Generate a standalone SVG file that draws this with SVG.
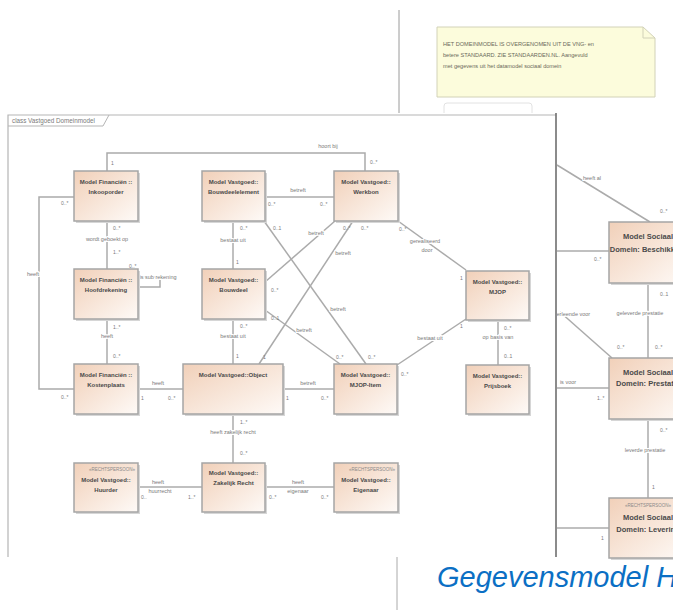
<svg xmlns="http://www.w3.org/2000/svg" width="673" height="610" viewBox="0 0 673 610">
<defs>
<linearGradient id="g" x1="0" y1="0" x2="1" y2="1"><stop offset="0" stop-color="#f1d0b9"/><stop offset="1" stop-color="#fefaf7"/></linearGradient>
</defs>
<style>
.bx{fill:url(#g);stroke:#a5a5a5;stroke-width:1.5}
.sh{fill:#d6d6d6}
.t{font-family:"Liberation Sans",Arial,sans-serif;font-size:6px;font-weight:bold;fill:#4a4a4a;text-anchor:middle}
.bt{font-family:"Liberation Sans",Arial,sans-serif;font-size:7.5px;font-weight:bold;fill:#4a4a4a;text-anchor:middle}
.st{font-family:"Liberation Sans",Arial,sans-serif;font-size:4.5px;fill:#8a8a8a;text-anchor:end}
.l{font-family:"Liberation Sans",Arial,sans-serif;font-size:5.5px;fill:#7a7a7a;text-anchor:middle;stroke:#fff;stroke-width:2;paint-order:stroke}
.m{font-family:"Liberation Sans",Arial,sans-serif;font-size:5px;fill:#7a7a7a}
.c{fill:none;stroke:#ababab;stroke-width:1.5}
.n{font-family:"Liberation Sans",Arial,sans-serif;font-size:5.6px;fill:#6a6a5a}
</style>
<rect x="0" y="0" width="673" height="610" fill="#fff"/>
<!-- background page -->
<g id="background">
<line x1="399" y1="10" x2="399" y2="113" stroke="#9a9a9a" stroke-width="1"/>
<line x1="397" y1="557" x2="397" y2="610" stroke="#aaa" stroke-width="1"/>
<rect x="444" y="103" width="88" height="14" rx="3" fill="none" stroke="#e2e2e2"/>
<g id="note">
<path d="M437,27 H643 L655,38 V97 H437 Z" fill="#fcfcdc" stroke="#d2d2b8" stroke-width="1"/>
<path d="M643,27 V38 H655" fill="none" stroke="#d2d2b8" stroke-width="1"/>
<text class="n" x="443" y="46">HET DOMEINMODEL IS OVERGENOMEN UIT DE VNG- en</text>
<text class="n" x="443" y="57">betere STANDAARD. ZIE STANDAARDEN.NL. Aangevuld</text>
<text class="n" x="443" y="68">met gegevens uit het datamodel sociaal domein</text>
</g>
<g id="bg-connectors">
<path class="c" d="M557,165 L650,222"/>
<path class="c" d="M557,251 H609"/>
<path class="c" d="M648,283 V358"/>
<path class="c" d="M560,312 L612,358"/>
<path class="c" d="M557,388 H609"/>
<path class="c" d="M648,419 V498"/>
<path class="c" d="M557,528 H609"/>
<text class="l" x="592" y="180">heeft al</text>
<text class="m" x="660" y="213">0..*</text>
<text class="m" x="594" y="261">0..*</text>
<text class="m" x="660" y="296">0..1</text>
<text class="l" x="640" y="315">geleverde prestatie</text>
<text class="l" x="572" y="316">verleende voor</text>
<text class="m" x="617" y="349">0..*</text>
<text class="m" x="655" y="349">0..*</text>
<text class="l" x="568" y="384">is voor</text>
<text class="m" x="597" y="400">1..*</text>
<text class="m" x="660" y="432">0..*</text>
<text class="l" x="645" y="452">leverde prestatie</text>
<text class="m" x="652" y="489">1</text>
<text class="m" x="601" y="540">1</text>
</g>
<g id="bg-beschikking"><rect class="sh" x="611" y="224" width="80" height="61"/><rect class="bx" x="609" y="222" width="80" height="61"/><text class="bt" x="648" y="239">Model Sociaal</text><text class="bt" x="648" y="252">Domein: Beschikking</text></g>
<g id="bg-prestatie"><rect class="sh" x="611" y="360" width="80" height="61"/><rect class="bx" x="609" y="358" width="80" height="61"/><text class="bt" x="648" y="375">Model Sociaal</text><text class="bt" x="648" y="386">Domein: Prestatie</text></g>
<g id="bg-levering"><rect class="sh" x="611" y="500" width="80" height="60"/><rect class="bx" x="609" y="498" width="80" height="60"/><text class="st" x="671" y="507">«RECHTSPERSOON»</text><text class="bt" x="648" y="520">Model Sociaal</text><text class="bt" x="648" y="532">Domein: Levering</text></g>
</g>
<!-- front diagram -->
<rect x="0" y="113" width="557" height="444" fill="#fff"/>
<g id="frame">
<path d="M8,557 V115 H556" fill="none" stroke="#b5b5b5" stroke-width="1.2"/>
<line x1="556" y1="113" x2="556" y2="557" stroke="#6e6e6e" stroke-width="1.6"/>
<path d="M8,126 H103 L109,115" fill="none" stroke="#b5b5b5" stroke-width="1"/>
<text class="m" x="12" y="123" style="font-size:6.3px">class Vastgoed Domeinmodel</text>
</g>
<g id="connectors">
<path class="c" d="M107,171 V153 H365 V171"/>
<path class="c" d="M107,221 V269"/>
<path class="c" d="M74,197 H39 V389 H74"/>
<path class="c" d="M138,277 H160 V287 H138"/>
<path class="c" d="M107,319 V364"/>
<path class="c" d="M138,389 H183"/>
<path class="c" d="M265,197 H334"/>
<path class="c" d="M233,221 V269"/>
<path class="c" d="M233,319 V364"/>
<path class="c" d="M233,414 V463"/>
<path class="c" d="M138,487 H202"/>
<path class="c" d="M265,487 H334"/>
<path class="c" d="M283,389 H334"/>
<path class="c" d="M398,221 L466,270"/>
<path class="c" d="M397,365 L466,319"/>
<path class="c" d="M498,320 V365"/>
<path class="c" d="M264,221 L366,364"/>
<path class="c" d="M335,221 L265,282"/>
<path class="c" d="M353,221 L259,364"/>
<path class="c" d="M265,310 L340,364"/>
<text class="l" x="328" y="148">hoort bij</text>
<text class="l" x="107" y="241">wordt geboekt op</text>
<text class="l" x="33" y="276">heeft</text>
<text class="l" x="158" y="279">is sub rekening</text>
<text class="l" x="107" y="338">heeft</text>
<text class="l" x="158" y="385">heeft</text>
<text class="l" x="298" y="192">betreft</text>
<text class="l" x="233" y="242">bestaat uit</text>
<text class="l" x="233" y="338">bestaat uit</text>
<text class="l" x="233" y="434">heeft zakelijk recht</text>
<text class="l" x="158" y="484">heeft</text>
<text class="l" x="160" y="493">huurrecht</text>
<text class="l" x="298" y="484">heeft</text>
<text class="l" x="298" y="493">eigenaar</text>
<text class="l" x="308" y="385">betreft</text>
<text class="l" x="425" y="243">gerealiseerd</text>
<text class="l" x="427" y="252">door</text>
<text class="l" x="430" y="340">bestaat uit</text>
<text class="l" x="498" y="339">op basis van</text>
<text class="l" x="338" y="311">betreft</text>
<text class="l" x="316" y="235">betreft</text>
<text class="l" x="343" y="255">betreft</text>
<text class="l" x="304" y="332">betreft</text>
<text class="m" x="111" y="165">1</text>
<text class="m" x="370" y="164">0..*</text>
<text class="m" x="113" y="230">0..*</text>
<text class="m" x="113" y="254">1..*</text>
<text class="m" x="61" y="205">0..*</text>
<text class="m" x="61" y="399">0..*</text>
<text class="m" x="129" y="268">0..*</text>
<text class="m" x="113" y="329">1..*</text>
<text class="m" x="113" y="358">0..*</text>
<text class="m" x="141" y="400">1</text>
<text class="m" x="168" y="400">0..*</text>
<text class="m" x="268" y="206">0..*</text>
<text class="m" x="320" y="206">0..*</text>
<text class="m" x="240" y="230">0..*</text>
<text class="m" x="236" y="264">1</text>
<text class="m" x="240" y="328">0..*</text>
<text class="m" x="236" y="358">1</text>
<text class="m" x="240" y="424">1..*</text>
<text class="m" x="240" y="455">0..*</text>
<text class="m" x="141" y="499">0..</text>
<text class="m" x="188" y="499">1..*</text>
<text class="m" x="269" y="499">0..*</text>
<text class="m" x="321" y="499">0..*</text>
<text class="m" x="286" y="400">1</text>
<text class="m" x="321" y="400">0..*</text>
<text class="m" x="399" y="231">0..*</text>
<text class="m" x="460" y="280">1</text>
<text class="m" x="401" y="376">0..*</text>
<text class="m" x="460" y="328">1</text>
<text class="m" x="504" y="330">0..*</text>
<text class="m" x="504" y="358">0..1</text>
<text class="m" x="273" y="230">0..1</text>
<text class="m" x="368" y="359">0..*</text>
<text class="m" x="343" y="230">0..*</text>
<text class="m" x="271" y="292">0..*</text>
<text class="m" x="361" y="230">0..*</text>
<text class="m" x="263" y="359">1</text>
<text class="m" x="271" y="320">0..1</text>
<text class="m" x="336" y="359">0..*</text>
</g>
<g id="inkooporder"><rect class="sh" x="76" y="173" width="64" height="50"/><rect class="bx" x="74" y="171" width="64" height="50"/><text class="t" x="106" y="184">Model Financiën ::</text><text class="t" x="106" y="194">Inkooporder</text></g>
<g id="bouwdeelelement"><rect class="sh" x="204" y="173" width="63" height="50"/><rect class="bx" x="202" y="171" width="63" height="50"/><text class="t" x="233.5" y="184">Model Vastgoed::</text><text class="t" x="233.5" y="194">Bouwdeelelement</text></g>
<g id="werkbon"><rect class="sh" x="336" y="173" width="64" height="50"/><rect class="bx" x="334" y="171" width="64" height="50"/><text class="t" x="366" y="184">Model Vastgoed::</text><text class="t" x="366" y="194">Werkbon</text></g>
<g id="hoofdrekening"><rect class="sh" x="76" y="271" width="64" height="50"/><rect class="bx" x="74" y="269" width="64" height="50"/><text class="t" x="106" y="282">Model Financiën ::</text><text class="t" x="106" y="292">Hoofdrekening</text></g>
<g id="bouwdeel"><rect class="sh" x="204" y="271" width="63" height="50"/><rect class="bx" x="202" y="269" width="63" height="50"/><text class="t" x="233.5" y="282">Model Vastgoed::</text><text class="t" x="233.5" y="292">Bouwdeel</text></g>
<g id="mjop"><rect class="sh" x="468" y="273" width="63" height="49"/><rect class="bx" x="466" y="271" width="63" height="49"/><text class="t" x="497.5" y="284">Model Vastgoed::</text><text class="t" x="497.5" y="294">MJOP</text></g>
<g id="kostenplaats"><rect class="sh" x="76" y="366" width="64" height="50"/><rect class="bx" x="74" y="364" width="64" height="50"/><text class="t" x="106" y="377">Model Financiën ::</text><text class="t" x="106" y="387">Kostenplaats</text></g>
<g id="object"><rect class="sh" x="185" y="366" width="100" height="50"/><rect class="bx" x="183" y="364" width="100" height="50"/><text class="t" x="233" y="377">Model Vastgoed::Object</text></g>
<g id="mjop-item"><rect class="sh" x="336" y="366" width="63" height="50"/><rect class="bx" x="334" y="364" width="63" height="50"/><text class="t" x="365.5" y="377">Model Vastgoed::</text><text class="t" x="365.5" y="387">MJOP-Item</text></g>
<g id="prijsboek"><rect class="sh" x="468" y="367" width="63" height="49"/><rect class="bx" x="466" y="365" width="63" height="49"/><text class="t" x="497.5" y="378">Model Vastgoed::</text><text class="t" x="497.5" y="388">Prijsboek</text></g>
<g id="huurder"><rect class="sh" x="76" y="465" width="64" height="49"/><rect class="bx" x="74" y="463" width="64" height="49"/><text class="st" x="135" y="471">«RECHTSPERSOON»</text><text class="t" x="106" y="482">Model Vastgoed::</text><text class="t" x="106" y="492">Huurder</text></g>
<g id="zakelijk-recht"><rect class="sh" x="204" y="465" width="63" height="49"/><rect class="bx" x="202" y="463" width="63" height="49"/><text class="t" x="233.5" y="475">Model Vastgoed::</text><text class="t" x="233.5" y="485">Zakelijk Recht</text></g>
<g id="eigenaar"><rect class="sh" x="336" y="465" width="64" height="49"/><rect class="bx" x="334" y="463" width="64" height="49"/><text class="st" x="395" y="471">«RECHTSPERSOON»</text><text class="t" x="366" y="482">Model Vastgoed::</text><text class="t" x="366" y="492">Eigenaar</text></g>
<text x="437" y="587" font-family="Liberation Sans, Arial, sans-serif" font-size="29" font-style="italic" fill="#0b6fc4">Gegevensmodel H</text>
</svg>
